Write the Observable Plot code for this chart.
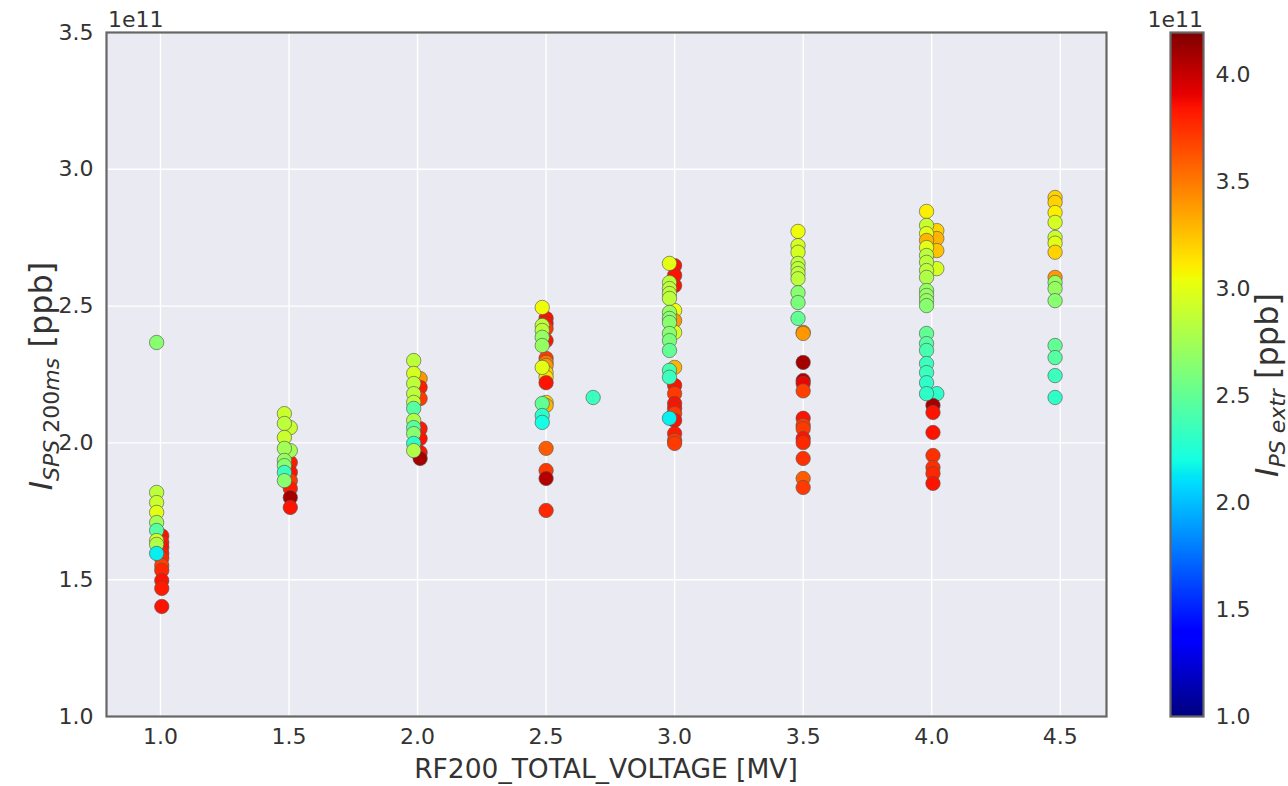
<!DOCTYPE html>
<html><head><meta charset="utf-8">
<script src="https://cdn.jsdelivr.net/npm/d3@7"></script>
<script src="https://cdn.jsdelivr.net/npm/@observablehq/plot@0.6"></script>
<style>
body{margin:0;background:#fff;}
#chart{position:relative;width:1288px;height:786px;display:flex;font-family:"DejaVu Sans",sans-serif;}
#chart svg{display:block;}
</style></head><body><div id="chart"></div>
<script>
// RF200 total voltage [MV]
const voltage = [
  1.005,1.005,1.005,1.005,1.005,1.005,1.005,1.005,1.005,1.005,
  0.985,0.985,0.985,0.985,0.985,0.985,0.985,0.985,0.985,
  1.505,1.505,1.505,1.505,1.505,1.505,1.505,1.505,
  1.482,1.482,1.482,1.482,1.482,1.482,1.482,1.482,
  2.01,2.01,2.01,2.01,2.01,2.01,2.01,
  1.985,1.985,1.985,1.985,1.985,1.985,1.985,1.985,1.985,1.985,1.985,
  2.50,2.50,2.50,2.50,2.50,2.50,2.50,2.50,2.50,2.50,2.50,2.50,2.50,2.50,2.50,2.50,
  2.485,2.485,2.485,2.485,2.485,2.485,2.485,2.485,2.485,
  2.683,
  3.0,3.0,3.0,3.0,3.0,3.0,3.0,3.0,3.0,3.0,3.0,3.0,3.0,3.0,3.0,3.0,
  2.98,2.98,2.98,2.98,2.98,2.98,2.98,2.98,2.98,2.98,2.98,2.98,2.98,2.98,
  3.48,3.48,3.48,3.48,3.48,3.48,3.48,3.48,3.48,3.48,
  3.50,3.50,3.50,3.50,3.50,3.50,3.50,3.50,3.50,3.50,3.50,3.50,3.50,3.50,
  4.02,4.02,4.02,4.02,4.02,
  4.005,4.005,4.005,4.005,4.005,4.005,4.005,
  3.98,3.98,3.98,3.98,3.98,3.98,3.98,3.98,3.98,3.98,3.98,3.98,3.98,3.98,3.98,3.98,3.98,3.98,3.98,3.98,
  4.48,4.48,4.48,4.48,4.48,4.48,4.48,4.48,4.48,4.48,4.48,4.48,4.48,4.48,4.48
];
// I SPS 200ms [ppb], in units of 1e11
const intensitySPS = [
  1.66,1.636,1.618,1.596,1.578,1.552,1.534,1.497,1.468,1.402,
  2.367,1.819,1.782,1.746,1.709,1.680,1.643,1.629,1.596,
  1.928,1.892,1.862,1.833,1.80,1.764,2.056,1.972,
  2.107,2.071,2.02,1.98,1.936,1.917,1.892,1.862,
  2.235,2.203,2.162,2.052,2.016,1.965,1.943,
  2.301,2.254,2.217,2.18,2.148,2.126,2.082,2.056,2.034,1.998,1.972,
  2.455,2.436,2.418,2.374,2.309,2.294,2.283,2.257,2.24,2.22,2.148,2.137,1.98,1.899,1.87,1.753,
  2.495,2.429,2.411,2.386,2.356,2.276,2.144,2.10,2.075,
  2.166,
  2.648,2.612,2.575,2.484,2.447,2.404,2.276,2.21,2.18,2.144,2.126,2.107,2.082,2.034,2.009,1.998,
  2.656,2.586,2.564,2.546,2.528,2.477,2.455,2.44,2.40,2.374,2.338,2.265,2.24,2.09,
  2.773,2.721,2.697,2.656,2.637,2.619,2.60,2.549,2.513,2.455,
  2.404,2.40,2.294,2.228,2.217,2.19,2.09,2.064,2.052,2.016,2.001,1.943,1.87,1.837,
  2.776,2.747,2.703,2.637,2.18,
  2.137,2.111,2.038,1.954,1.91,1.888,1.852,
  2.846,2.795,2.765,2.74,2.714,2.685,2.66,2.63,2.605,2.557,2.539,2.52,2.502,2.40,2.363,2.338,2.29,2.257,2.22,2.18,
  2.897,2.879,2.842,2.806,2.751,2.73,2.697,2.605,2.586,2.564,2.52,2.356,2.312,2.246,2.166
];
// I PS extr [ppb], in units of 1e11
const intensityPS = [
  3.85,3.82,3.85,3.82,3.78,3.7,3.78,3.85,3.82,3.85,
  2.65,2.85,2.9,3.0,2.75,2.45,2.95,2.8,2.15,
  3.82,3.85,3.72,3.82,4.1,3.85,2.9,2.75,
  2.9,2.85,2.9,2.75,2.7,2.65,2.35,2.65,
  3.4,3.82,3.72,3.82,3.85,3.85,4.1,
  2.85,2.95,2.85,2.85,2.85,2.45,2.8,2.45,2.65,2.3,2.8,
  3.85,3.85,3.72,3.85,3.72,3.5,3.4,3.2,3.15,3.85,3.2,3.3,3.6,3.72,4.05,3.78,
  3.05,2.85,2.85,2.7,2.7,3.0,2.5,2.3,2.2,
  2.35,
  3.85,3.85,3.85,3.05,3.4,2.95,3.3,3.85,3.72,3.85,3.85,3.72,3.85,3.82,3.72,3.72,
  3.0,2.85,2.85,2.85,2.85,2.7,2.65,2.65,2.65,2.6,2.5,2.4,2.35,2.15,
  3.05,2.95,2.95,2.85,2.85,2.85,2.85,2.65,2.6,2.5,
  3.45,3.4,4.1,4.05,3.9,3.7,3.85,3.72,3.72,3.85,3.78,3.75,3.6,3.72,
  3.2,3.3,3.25,2.95,2.3,
  4.1,3.85,3.85,3.75,3.75,3.78,3.85,
  3.1,2.9,3.0,3.3,3.0,2.85,2.85,2.85,2.8,2.7,2.7,2.7,2.65,2.5,2.45,2.4,2.35,2.35,2.3,2.3,
  3.2,3.2,3.1,2.95,2.9,3.0,3.2,3.4,2.7,2.7,2.65,2.5,2.45,2.35,2.3
];
const xTicks = [1.0,1.5,2.0,2.5,3.0,3.5,4.0,4.5];
const yTicks = [1.0,1.5,2.0,2.5,3.0,3.5];
const cbTicks = [1.0,1.5,2.0,2.5,3.0,3.5,4.0];

const data = voltage.map((v,i)=>({v, sps:intensitySPS[i], ps:intensityPS[i]}));

// matplotlib "jet" colormap
const jetR = [[0,0],[0.35,0],[0.66,1],[0.89,1],[1,0.5]];
const jetG = [[0,0],[0.125,0],[0.375,1],[0.64,1],[0.91,0],[1,0]];
const jetB = [[0,0.5],[0.11,1],[0.34,1],[0.65,0],[1,0]];
function seg(s,t){
  for(let k=1;k<s.length;k++){ if(t<=s[k][0]){ const a=s[k-1],b=s[k]; return a[1]+(b[1]-a[1])*(t-a[0])/(b[0]-a[0]); } }
  return s[s.length-1][1];
}
function jet(t){
  t=Math.max(0,Math.min(1,t));
  return `rgb(${Math.round(255*seg(jetR,t))},${Math.round(255*seg(jetG,t))},${Math.round(255*seg(jetB,t))})`;
}
const colorScale = {type:"linear", domain:[1.0,4.2], interpolate: ()=>jet};
const fmt = d3.format(".1f");
const FONT = "DejaVu Sans";
const TXT = "#333";

const main = Plot.plot({
  width:1140, height:786,
  marginLeft:106, marginRight:34, marginTop:32, marginBottom:70,
  style:{fontFamily:FONT, color:TXT, background:"transparent", overflow:"visible"},
  x:{domain:[0.79,4.68]},
  y:{domain:[1.0,3.5]},
  color: colorScale,
  marks:[
    Plot.frame({fill:"#eaeaf2"}),
    Plot.gridX(xTicks,{stroke:"#fff", strokeOpacity:1, strokeWidth:1.4}),
    Plot.gridY(yTicks,{stroke:"#fff", strokeOpacity:1, strokeWidth:1.4}),
    Plot.axisX(xTicks,{tickSize:0, tickPadding:12, fontSize:22, tickFormat:fmt, label:null}),
    Plot.axisY(yTicks,{tickSize:0, tickPadding:13, fontSize:22, tickFormat:fmt, label:null}),
    Plot.dot(data,{x:"v", y:"sps", fill:"ps", r:7.2, stroke:"#555", strokeWidth:0.8, strokeOpacity:0.8}),
    Plot.frame({stroke:"#666", strokeWidth:2.2})
  ]
});

const cbar = Plot.plot({
  width:148, height:786,
  marginLeft:30, marginRight:85, marginTop:32, marginBottom:70,
  style:{fontFamily:FONT, color:TXT, background:"transparent", overflow:"visible"},
  x:{domain:[0,1], axis:null},
  y:{domain:[1.0,4.2]},
  color: colorScale,
  marks:[
    Plot.raster({x1:0, x2:1, y1:1.0, y2:4.2, width:2, height:400, fill:(x,y)=>y}),
    Plot.axisY(cbTicks,{anchor:"right", tickSize:0, tickPadding:12, fontSize:22, tickFormat:fmt, label:null}),
    Plot.frame({stroke:"#666", strokeWidth:2.2})
  ]
});

const chart = document.getElementById("chart");
chart.appendChild(main);
chart.appendChild(cbar);

// labels
const ms = d3.select(main);
ms.append("text").attr("x",108).attr("y",27).attr("text-anchor","start").attr("font-size",22).attr("fill",TXT).attr("font-family",FONT).text("1e11");
ms.append("text").attr("x",606).attr("y",778).attr("text-anchor","middle").attr("font-size",26.5).attr("fill",TXT).attr("font-family",FONT).text("RF200_TOTAL_VOLTAGE [MV]");
const yl = ms.append("text").attr("transform","translate(52,376) rotate(-90)").attr("text-anchor","middle").attr("font-size",32).attr("fill",TXT).attr("font-family",FONT);
yl.append("tspan").attr("font-style","italic").text("I");
yl.append("tspan").attr("font-size",22).attr("dy",7).attr("font-style","italic").text("SPS\u00a0");
yl.append("tspan").attr("font-size",22).text("200");
yl.append("tspan").attr("font-size",22).attr("font-style","italic").text("ms");
yl.append("tspan").attr("dy",-7).text(" [ppb]");

const cs = d3.select(cbar);
cs.append("text").attr("x",63).attr("y",27).attr("text-anchor","end").attr("font-size",22).attr("fill",TXT).attr("font-family",FONT).text("1e11");
const cl = cs.append("text").attr("transform","translate(138,385) rotate(-90)").attr("text-anchor","middle").attr("font-size",32).attr("fill",TXT).attr("font-family",FONT);
cl.append("tspan").attr("font-style","italic").text("I");
cl.append("tspan").attr("font-size",22).attr("dy",7).attr("font-style","italic").text("PS extr");
cl.append("tspan").attr("dy",-7).text(" [ppb]");
</script></body></html>
